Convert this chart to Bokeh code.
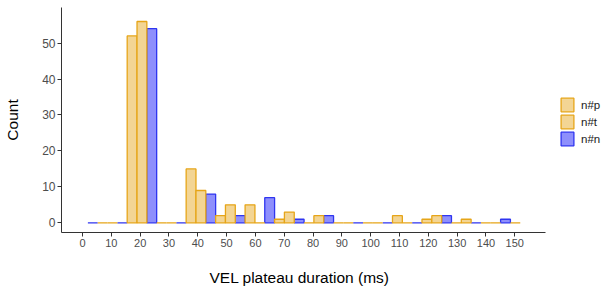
from bokeh.plotting import figure
from bokeh.models import (ColumnDataSource, FixedTicker, Legend, LegendItem, Range1d,
                          Title, LinearAxis)
from bokeh.transform import dodge
from bokeh.embed import file_html
from bokeh.resources import INLINE

# ---- data ----
bin_centers = [6.98, 17.21, 27.44, 37.67, 47.90, 58.13, 68.36, 78.59,
               88.82, 99.05, 109.28, 119.51, 129.74, 139.97, 150.20]
count_p = [0, 52, 0, 15, 2, 5, 1, 0, 0, 0, 2, 1, 0, 0, 0]
count_t = [0, 56, 0, 9, 5, 0, 3, 2, 0, 0, 0, 2, 1, 0]
count_n = [0, 0, 54, 0, 8, 2, 7, 1, 2, 0, 0, 0, 2, 0, 1]
x_ticks = [0, 10, 20, 30, 40, 50, 60, 70, 80, 90, 100, 110, 120, 130, 140, 150]
y_ticks = [0, 10, 20, 30, 40, 50]
series_labels = ["n#p", "n#t", "n#n"]
x_title = "VEL plateau duration (ms)"
y_title = "Count"

BIN_W = 10.23
BAR_W = BIN_W / 3.0

FONT = "Liberation Sans"

X_START, X_AXIS_END, X_FRAME_END = -7.29, 160.8, 180.1

p = figure(width=601, height=290, output_backend="svg", toolbar_location=None,
           x_range=Range1d(X_START, X_FRAME_END), y_range=Range1d(-2.69, 59.9),
           min_border_left=61, min_border_right=0,
           min_border_top=7, min_border_bottom=58)

src_p = ColumnDataSource(dict(x=bin_centers[:len(count_p)], y=count_p))
src_t = ColumnDataSource(dict(x=bin_centers[:len(count_t)], y=count_t))
src_n = ColumnDataSource(dict(x=bin_centers[:len(count_n)], y=count_n))

orange_fill = "#F3D594"
orange_line = "#E6A518"
blue_fill = "#8E8FFC"
blue_line = "#2F35F0"

r_n = p.vbar(x=dodge("x", -BAR_W, range=p.x_range), top="y", bottom=0, width=BAR_W,
             source=src_n, fill_color=blue_fill, line_color=blue_line, line_width=1.3)
r_p = p.vbar(x=dodge("x", 0.0, range=p.x_range), top="y", bottom=0, width=BAR_W,
             source=src_p, fill_color=orange_fill, line_color=orange_line, line_width=1.3)
r_t = p.vbar(x=dodge("x", BAR_W, range=p.x_range), top="y", bottom=0, width=BAR_W,
             source=src_t, fill_color=orange_fill, line_color=orange_line, line_width=1.3)

legend = Legend(items=[LegendItem(label=series_labels[0], renderers=[r_p]),
                       LegendItem(label=series_labels[1], renderers=[r_t]),
                       LegendItem(label=series_labels[2], renderers=[r_n])],
                location=(498, 85))
legend.glyph_width = 16
legend.glyph_height = 17
legend.label_height = 17
legend.spacing = 0
legend.padding = 0
legend.margin = 0
legend.label_standoff = 6
legend.label_text_font = FONT
legend.label_text_font_size = "11.5px"
legend.label_text_color = "#1A1A1A"
legend.border_line_color = None
legend.background_fill_alpha = 0
p.add_layout(legend, "center")

# axes styling (ggplot classic-like)
p.xgrid.grid_line_color = None
p.ygrid.grid_line_color = None
p.outline_line_color = None
p.background_fill_color = "white"

p.xaxis.ticker = FixedTicker(ticks=x_ticks)
p.yaxis.ticker = FixedTicker(ticks=y_ticks)
p.xaxis.bounds = (X_START, X_AXIS_END)
p.xaxis.minor_tick_line_color = None
p.yaxis.minor_tick_line_color = None
for ax in (p.xaxis, p.yaxis):
    ax.axis_line_color = "#333333"
    ax.axis_line_width = 1
    ax.major_tick_line_color = "#333333"
    ax.major_tick_out = 4
    ax.major_tick_in = 0
    ax.major_label_text_font = FONT
    ax.major_label_text_font_size = "11px"
    ax.major_label_text_color = "#4D4D4D"
    ax.major_label_standoff = 2
    ax.axis_label_text_font = FONT
    ax.axis_label_text_font_size = "15.5px"
    ax.axis_label_text_font_style = "normal"
    ax.axis_label_text_color = "#000000"
p.yaxis.major_label_text_font_size = "12px"

p.yaxis.axis_label = y_title
p.yaxis.axis_label_standoff = 18

# invisible spacer axis between tick labels and the x title
spacer = LinearAxis(ticker=FixedTicker(ticks=[0]), major_label_overrides={0: ""},
                    axis_line_color=None, major_tick_line_color=None,
                    minor_tick_line_color=None, major_tick_in=0, major_tick_out=16,
                    major_label_standoff=0, major_label_text_font_size="0px")
p.add_layout(spacer, "below")

xt = Title(text=x_title, align="left", offset=148, standoff=2,
           text_font=FONT, text_font_size="15.5px", text_font_style="normal",
           text_color="#000000")
p.add_layout(xt, "below")

open("out.html", "w").write(file_html(p, INLINE))
